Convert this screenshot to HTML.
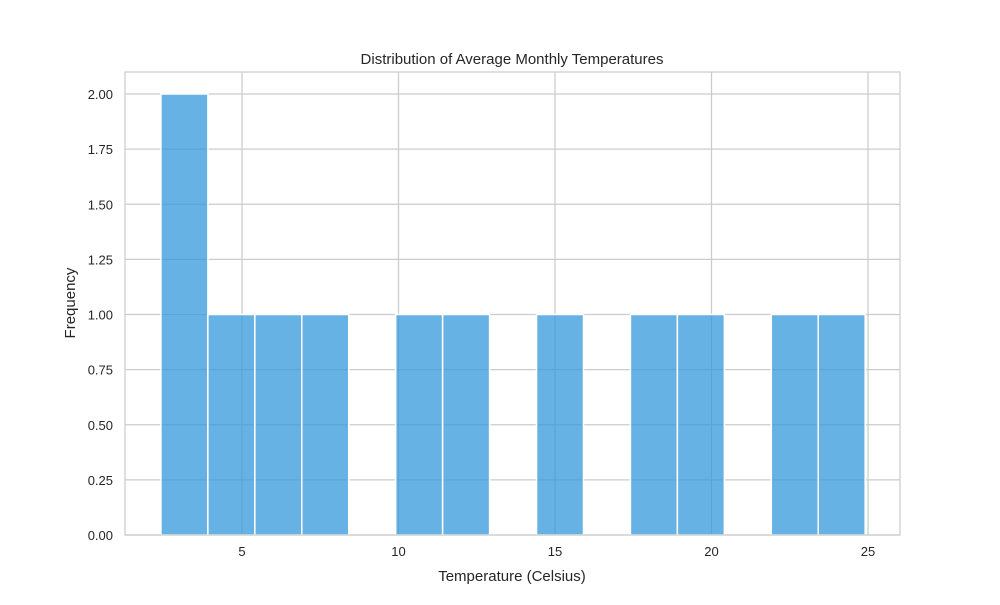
<!DOCTYPE html>
<html><head><meta charset="utf-8"><style>
body{margin:0;background:#fff;}
svg text{font-family:"Liberation Sans","DejaVu Sans",sans-serif;fill:#262626;}
</style></head><body>
<svg id="chart" width="1000" height="600" xmlns="http://www.w3.org/2000/svg">
<rect x="0" y="0" width="1000" height="600" fill="#fff"/>
<g id="grid"></g><g id="bars"></g><g id="ticks"></g>
<rect x="125" y="72" width="775" height="463" fill="none" stroke="#cccccc" stroke-width="1.25"/>
<text x="512" y="64" text-anchor="middle" font-size="15">Distribution of Average Monthly Temperatures</text>
<text x="512" y="581" text-anchor="middle" font-size="15">Temperature (Celsius)</text>
<text x="75" y="303" text-anchor="middle" font-size="15" transform="rotate(-90 75 303)">Frequency</text>
</svg>
<script>
const binStart = 2.41;
const binWidth = 1.5;
const counts = [2,1,1,1,0,1,1,0,1,0,1,1,0,1,1];
const xTicks = [5,10,15,20,25];
const yTicks = [0,0.25,0.5,0.75,1,1.25,1.5,1.75,2];
const yTickLabels = ["0.00","0.25","0.50","0.75","1.00","1.25","1.50","1.75","2.00"];
const NS="http://www.w3.org/2000/svg";
const xs=v=>242+(v-5)*31.3;
const ys=v=>535-v*220.5;
function mk(t,a,p){const e=document.createElementNS(NS,t);for(const k in a)e.setAttribute(k,a[k]);p.appendChild(e);return e;}
const grid=document.getElementById('grid'),bars=document.getElementById('bars'),ticks=document.getElementById('ticks');
xTicks.forEach(v=>{
 const l=mk('line',{x1:xs(v),x2:xs(v),y1:72,y2:535,stroke:'#cccccc','stroke-width':1.25},grid);
 
 
 const t=mk('text',{x:xs(v),y:556,'text-anchor':'middle','font-size':13},ticks);
 t.textContent=v;
 
 
});
yTicks.forEach((v,i)=>{
 const l=mk('line',{x1:125,x2:900,y1:ys(v),y2:ys(v),stroke:'#cccccc','stroke-width':1.25},grid);
 
 
 const t=mk('text',{x:113,y:ys(v)+5,'text-anchor':'end','font-size':13},ticks);
 t.textContent=yTickLabels[i];
 
 
});
counts.forEach((c,i)=>{
 if(!c)return;
 const x0=xs(binStart+i*binWidth),x1=xs(binStart+(i+1)*binWidth);
 const r=mk('rect',{x:x0,y:ys(c),width:x1-x0,height:ys(0)-ys(c),fill:'#3498db','fill-opacity':0.75,stroke:'#fff','stroke-width':1.5},bars);
 
 
});
</script>
</body></html>
